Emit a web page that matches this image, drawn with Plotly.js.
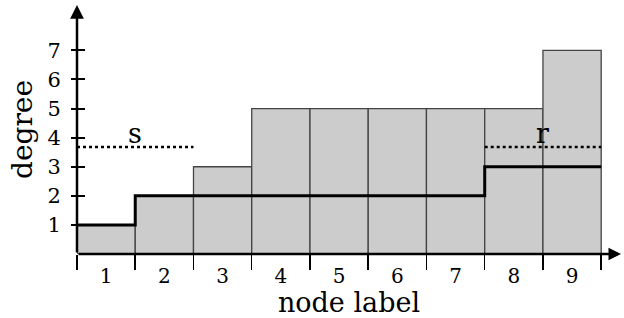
<!DOCTYPE html>
<html><head><meta charset="utf-8">
<script src="https://cdn.plot.ly/plotly-3.0.1.min.js"></script>
<style>html,body{margin:0;padding:0;background:#fff}#chart{width:624px;height:318px}</style>
</head><body><div id="chart"></div>
<script>
var nodes = [1,2,3,4,5,6,7,8,9];
var degrees = [1,2,3,5,5,5,5,5,7];
var stepLevels = [1,2,2,2,2,2,2,3,3];
var yTicks = [1,2,3,4,5,6,7];
var sLevel = 3.68, sStart = 0.5, sEnd = 2.5;
var rLevel = 3.68, rStart = 7.5, rEnd = 9.5;
var FONT = "DejaVu Serif";
var X_MAX = 9.84, Y_MAX = 8.56;

var boundaries = nodes.map(function(n){return n-0.5;}).concat([nodes[nodes.length-1]+0.5]);
var stepY = stepLevels.concat([stepLevels[stepLevels.length-1]]);

var traces = [
  {type:'bar', x:nodes, y:degrees, width:1, marker:{color:'#cccccc', line:{color:'#444444', width:1.3}}, hoverinfo:'skip'},
  {type:'scatter', mode:'lines', x:boundaries, y:stepY, line:{shape:'hv', color:'#000', width:3}},
  {type:'scatter', mode:'lines', x:[sStart,sEnd], y:[sLevel,sLevel], line:{color:'#000', width:2.5, dash:'dot'}},
  {type:'scatter', mode:'lines', x:[rStart,rEnd], y:[rLevel,rLevel], line:{color:'#000', width:2.5, dash:'dot'}},
  {type:'scatter', mode:'markers', x:[1], y:[0], xaxis:'x2', yaxis:'y2', marker:{opacity:0}, hoverinfo:'skip'}
];

var layout = {
  width:624, height:318, showlegend:false,
  margin:{l:77, r:3, t:5, b:64},
  paper_bgcolor:'#fff', plot_bgcolor:'#fff',
  font:{family:FONT, color:'#000'},
  xaxis:{range:[0.5,X_MAX], tickvals:boundaries, ticktext:boundaries.map(function(){return '';}),
         ticks:'outside', ticklen:15, tickwidth:1.5, tickcolor:'#000', showgrid:false, zeroline:false,
         showline:false, fixedrange:true,
         title:{text:'node label', font:{size:27, family:FONT}, standoff:23}},
  xaxis2:{overlaying:'x', matches:'x', range:[0.5,X_MAX], tickvals:nodes, ticktext:nodes.map(String),
          ticks:'', showgrid:false, zeroline:false, showline:false, side:'bottom',
          tickfont:{size:20, family:FONT}, ticklabelstandoff:8},
  yaxis:{range:[0,Y_MAX], tickvals:yTicks, ticks:'outside', ticklen:5, tickwidth:2, tickcolor:'#000',
         showgrid:false, zeroline:false, showline:false, tickfont:{size:21, family:FONT},
         ticklabelstandoff:6,
         title:{text:'degree', font:{size:28, family:FONT}, standoff:6}},
  yaxis2:{overlaying:'y', matches:'y', range:[0,Y_MAX], tickvals:yTicks, ticktext:yTicks.map(function(){return '';}),
          ticks:'inside', ticklen:8, tickwidth:2, tickcolor:'#000', showgrid:false, zeroline:false, showline:false},
  annotations:[
    {x:X_MAX, y:0, ax:0.5, ay:0, xref:'x', yref:'y', axref:'x', ayref:'y', text:'', showarrow:true,
     arrowhead:2, arrowsize:1, arrowwidth:2.5, arrowcolor:'#000'},
    {x:0.5, y:Y_MAX, ax:0.5, ay:0, xref:'x', yref:'y', axref:'x', ayref:'y', text:'', showarrow:true,
     arrowhead:2, arrowsize:1.1, arrowwidth:2.5, arrowcolor:'#000'},
    {x:(sStart+sEnd)/2, y:sLevel, xref:'x', yref:'y', text:'s', showarrow:false, yanchor:'bottom', yshift:-4,
     font:{size:27, family:FONT, color:'#000'}},
    {x:(rStart+rEnd)/2, y:rLevel, xref:'x', yref:'y', text:'r', showarrow:false, yanchor:'bottom', yshift:-4,
     font:{size:27, family:FONT, color:'#000'}}
  ]
};
Plotly.newPlot('chart', traces, layout, {staticPlot:true, displayModeBar:false});
</script></body></html>
